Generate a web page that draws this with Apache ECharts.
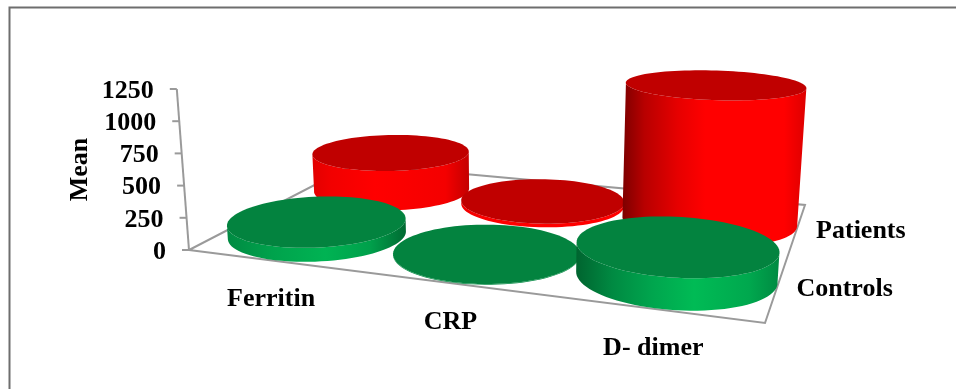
<!DOCTYPE html>
<html>
<head>
  <meta charset="utf-8">
  <title>ECharts</title>
  <script src="https://cdn.jsdelivr.net/npm/echarts@6/dist/echarts.min.js"></script>
  <style>html,body{margin:0;padding:0;background:#fff}</style>
</head>
<body>
<div id="main" style="width:956px;height:389px;"></div>
<script type="text/javascript">
  // chart data
  var categories = ['Ferritin', 'CRP', 'D- dimer'];
  var seriesNames = ['Controls', 'Patients'];
  var controls = [105, 5, 215];
  var patients = [340, 30, 1135];
  var yTicks = [0, 250, 500, 750, 1000, 1250];

  var myChart = echarts.init(document.getElementById('main'));

  // floor of the 3d box on screen: front left, front right, back right, back left
  var P0 = [189, 250], P1 = [765, 323], P2 = [805, 205], P3 = [355, 164];
  // vertical lines of the box meet far below the picture
  var VP = [511, 4500];
  var FONT = 'bold 26px "Liberation Serif", "Times New Roman", serif';
  var RU = 0.164, RV = 0.245; // cylinder radius in floor units
  var U_SHIFT = 0.002;

  // square -> quad homography for the floor
  var dx1 = P1[0] - P2[0], dx2 = P3[0] - P2[0], sx = P0[0] - P1[0] + P2[0] - P3[0];
  var dy1 = P1[1] - P2[1], dy2 = P3[1] - P2[1], sy = P0[1] - P1[1] + P2[1] - P3[1];
  var det = dx1 * dy2 - dx2 * dy1;
  var g = (sx * dy2 - dx2 * sy) / det;
  var h = (dx1 * sy - sx * dy1) / det;

  function weight(u, v) {
    return 1 + g * u + h * v;
  }
  function floorPt(u, v) {
    var w = weight(u, v);
    return [
      ((P1[0] - P0[0] + g * P1[0]) * u + (P3[0] - P0[0] + h * P3[0]) * v + P0[0]) / w,
      ((P1[1] - P0[1] + g * P1[1]) * u + (P3[1] - P0[1] + h * P3[1]) * v + P0[1]) / w
    ];
  }
  // move a floor point up by px, along the leaning vertical
  function lift(p, px) {
    return [p[0] + (p[0] - VP[0]) * px / (VP[1] - p[1]), p[1] - px];
  }

  function sideGradient(stops) {
    return {
      type: 'linear', x: 0, y: 0, x2: 1, y2: 0,
      colorStops: stops.map(function (s) { return { offset: s[0], color: s[1] }; })
    };
  }
  // the light falls differently on each column, so one shading per category
  var redSides = [
    sideGradient([[0, '#e20000'], [0.12, '#f20000'], [0.4, '#ff0000'], [0.85, '#f40000'], [1, '#c40000']]),
    sideGradient([[0, '#f00000'], [0.2, '#ff0000'], [1, '#ff0000']]),
    sideGradient([[0, '#7d0000'], [0.12, '#b80000'], [0.3, '#e60000'], [0.45, '#ff0000'], [0.88, '#ff0000'], [1, '#dd0000']])
  ];
  var greenSides = [
    sideGradient([[0, '#008a42'], [0.25, '#00a24c'], [0.55, '#00b353'], [0.8, '#00a04b'], [1, '#006a32']]),
    sideGradient([[0, '#008a42'], [1, '#008a42']]),
    sideGradient([[0, '#00642f'], [0.18, '#008a42'], [0.38, '#00a64e'], [0.58, '#00bb55'], [0.85, '#00a84e'], [1, '#008a42']])
  ];

  function cylinderItem(row, sideFills, topFill) {
    return function (params, api) {
      var cat = api.value(0), val = api.value(1);
      var uc = (cat + 0.5) / categories.length + U_SHIFT, vc = (row + 0.5) / seriesNames.length;
      var unitPx = api.size([0, val])[1];
      var base = [], top = [];
      for (var i = 0; i < 96; i++) {
        var a = i / 96 * Math.PI * 2;
        var u = uc + RU * Math.cos(a), v = vc + RV * Math.sin(a);
        var p = floorPt(u, v);
        base.push(p);
        top.push(lift(p, unitPx / weight(u, v)));
      }
      // find the two silhouette points of the base
      var minI = 0, maxI = 0;
      base.forEach(function (p, i) {
        if (p[0] < base[minI][0]) minI = i;
        if (p[0] > base[maxI][0]) maxI = i;
      });
      var side = [], back = [];
      for (var k = minI; ; k = (k + 1) % 96) {
        side.push(base[k]);
        back.unshift(top[k]);
        if (k === maxI) break;
      }
      // the walk above may take the back half, then use the other way round
      var midK = (minI + Math.floor(((maxI - minI + 96) % 96) / 2)) % 96;
      if (base[midK][1] < (base[minI][1] + base[maxI][1]) / 2) {
        side = []; back = [];
        for (k = maxI; ; k = (k + 1) % 96) {
          side.push(base[k]);
          back.unshift(top[k]);
          if (k === minI) break;
        }
      }
      return {
        type: 'group',
        children: [
          { type: 'polygon', shape: { points: side.concat(back) }, style: { fill: sideFills[cat] } },
          { type: 'polygon', shape: { points: top }, style: { fill: topFill } }
        ]
      };
    };
  }

  function toRows(values) {
    return values.map(function (v, i) { return [i, v]; });
  }

  var lineStyle = { stroke: '#9a9a9a', lineWidth: 2, fill: null };

  var option = {
    animation: false,
    backgroundColor: '#fff',
    grid: { left: 189, top: 89, width: 576, height: 161 },
    xAxis: { type: 'category', data: categories, show: false },
    yAxis: {
      type: 'value', min: 0, max: 1250, interval: 250,
      name: 'Mean', nameLocation: 'middle', nameGap: 96, nameRotate: 90,
      nameTextStyle: { color: '#000', fontFamily: '"Liberation Serif"', fontWeight: 'bold', fontSize: 26 },
      axisLine: { show: false }, axisTick: { show: false }, axisLabel: { show: false }, splitLine: { show: false }
    },
    graphic: [
      { type: 'polyline', silent: true, shape: { points: [[9.5, 389], [9.5, 7.5], [956, 7.5]] }, style: { stroke: '#6e6e6e', lineWidth: 2, fill: null } }
    ],
    series: [
      {
        // box floor, value axis and its tick labels
        type: 'custom', name: 'axis', coordinateSystem: 'cartesian2d', clip: false, z: 1, silent: true,
        data: yTicks.map(function (t) { return [0, t]; }),
        renderItem: function (params, api) {
          var y = api.coord([0, api.value(1)])[1];
          var p = lift(P0, P0[1] - y);
          var kids = [
            { type: 'line', shape: { x1: p[0] - 7, y1: p[1], x2: p[0], y2: p[1] }, style: lineStyle },
            { type: 'text', style: { text: String(api.value(1)), x: p[0] - 23, y: p[1] + 2, font: FONT, fill: '#000', align: 'right', verticalAlign: 'middle' } }
          ];
          if (params.dataIndex === 0) {
            var q = lift(P0, P0[1] - api.coord([0, yTicks[yTicks.length - 1]])[1]);
            kids.push({ type: 'line', shape: { x1: P0[0], y1: P0[1], x2: q[0], y2: q[1] }, style: lineStyle });
            kids.push({ type: 'polygon', shape: { points: [P0, P1, P2, P3] }, style: lineStyle });
          }
          return { type: 'group', children: kids };
        }
      },
      {
        type: 'custom', name: seriesNames[1], coordinateSystem: 'cartesian2d', clip: false, z: 2,
        data: toRows(patients), encode: { x: 0, y: 1 },
        renderItem: cylinderItem(1, redSides, '#c00000')
      },
      {
        type: 'custom', name: seriesNames[0], coordinateSystem: 'cartesian2d', clip: false, z: 3,
        data: toRows(controls), encode: { x: 0, y: 1 },
        renderItem: cylinderItem(0, greenSides, '#03833f')
      },
      {
        // category names under the front edge
        type: 'custom', name: 'categories', coordinateSystem: 'cartesian2d', clip: false, z: 4, silent: true,
        data: categories.map(function (c, i) { return [i, 0]; }),
        renderItem: function (params, api) {
          var p = floorPt((api.value(0) + 0.5) / categories.length, 0);
          return { type: 'text', style: { text: categories[params.dataIndex], x: p[0], y: p[1] + 39, font: FONT, fill: '#000', align: 'center', verticalAlign: 'middle' } };
        }
      },
      {
        // depth names beside the right edge
        type: 'custom', name: 'rows', coordinateSystem: 'cartesian2d', clip: false, z: 4, silent: true,
        data: seriesNames.map(function (c, i) { return [i, 0]; }),
        renderItem: function (params, api) {
          var p = floorPt(1, (api.value(0) + 0.5) / seriesNames.length);
          return { type: 'text', style: { text: seriesNames[params.dataIndex], x: p[0] + 19, y: p[1] + 3, font: FONT, fill: '#000', align: 'left', verticalAlign: 'middle' } };
        }
      }
    ]
  };

  myChart.setOption(option);
</script>
</body>
</html>
